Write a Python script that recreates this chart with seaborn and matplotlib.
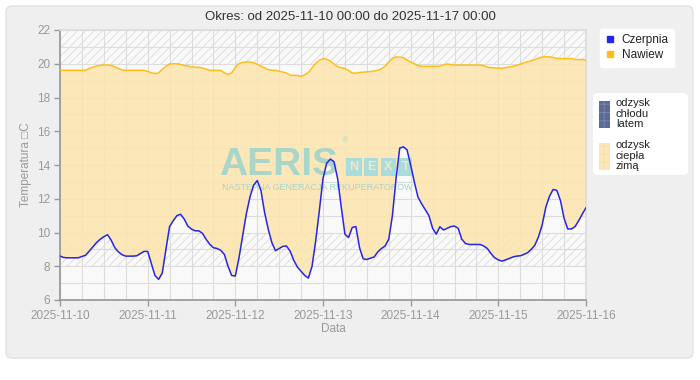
import pandas as pd
import matplotlib
matplotlib.use("Agg")
import matplotlib.pyplot as plt
import matplotlib.dates as mdates
from matplotlib.ticker import MultipleLocator
from matplotlib.patches import FancyBboxPatch, Patch
from matplotlib.lines import Line2D
import seaborn as sns

# ===============================
# Data (hourly)
# ===============================
start = "2025-11-10 00:00"
title = "Okres: od 2025-11-10 00:00 do 2025-11-17 00:00"

czerpnia = [
    8.60, 8.52, 8.50, 8.50, 8.50, 8.50, 8.58, 8.65, 8.90, 9.15, 9.40, 9.60,
    9.75, 9.87, 9.55, 9.10, 8.85, 8.68, 8.60, 8.60, 8.60, 8.62, 8.75, 8.88,
    8.88, 8.17, 7.45, 7.22, 7.60, 9.00, 10.35, 10.70, 11.00, 11.08, 10.80, 10.38,
    10.20, 10.10, 10.10, 9.95, 9.60, 9.30, 9.10, 9.05, 8.95, 8.70, 8.00, 7.45,
    7.42, 8.50, 9.80, 11.10, 12.10, 12.80, 13.08, 12.50, 11.20, 10.20, 9.40, 8.92,
    9.05, 9.18, 9.20, 8.90, 8.35, 7.95, 7.70, 7.45, 7.30, 8.00, 9.50, 11.30,
    13.20, 14.10, 14.35, 14.20, 13.20, 11.50, 9.90, 9.70, 10.30, 10.35, 9.10, 8.44,
    8.40, 8.48, 8.55, 8.85, 9.05, 9.20, 9.60, 11.00, 13.20, 15.00, 15.08, 14.90,
    14.00, 13.00, 12.10, 11.70, 11.35, 11.00, 10.25, 9.90, 10.34, 10.15, 10.25, 10.35,
    10.38, 10.25, 9.60, 9.35, 9.29, 9.29, 9.29, 9.29, 9.20, 9.05, 8.75, 8.50,
    8.38, 8.30, 8.38, 8.46, 8.55, 8.60, 8.62, 8.70, 8.80, 9.00, 9.25, 9.75,
    10.45, 11.50, 12.15, 12.55, 12.50, 11.90, 10.84, 10.21, 10.21, 10.35, 10.70, 11.10,
    11.47,
]

nawiew = [
    19.61, 19.61, 19.61, 19.61, 19.61, 19.61, 19.61, 19.61, 19.72, 19.80, 19.86, 19.90,
    19.93, 19.93, 19.90, 19.82, 19.72, 19.63, 19.61, 19.61, 19.61, 19.61, 19.61, 19.61,
    19.55, 19.46, 19.42, 19.45, 19.67, 19.85, 19.99, 20.00, 20.00, 19.96, 19.90, 19.87,
    19.82, 19.79, 19.79, 19.75, 19.68, 19.61, 19.61, 19.61, 19.60, 19.46, 19.36, 19.45,
    19.80, 20.00, 20.08, 20.11, 20.10, 20.06, 19.97, 19.86, 19.75, 19.65, 19.62, 19.61,
    19.55, 19.51, 19.45, 19.32, 19.31, 19.31, 19.25, 19.35, 19.48, 19.75, 20.02, 20.20,
    20.30, 20.27, 20.16, 19.98, 19.82, 19.77, 19.72, 19.60, 19.45, 19.44, 19.48, 19.50,
    19.52, 19.54, 19.56, 19.62, 19.70, 19.85, 20.10, 20.30, 20.41, 20.39, 20.36, 20.22,
    20.10, 20.00, 19.90, 19.85, 19.85, 19.85, 19.85, 19.85, 19.85, 19.93, 19.98, 19.95,
    19.92, 19.92, 19.92, 19.92, 19.92, 19.92, 19.92, 19.92, 19.88, 19.80, 19.77, 19.75,
    19.74, 19.73, 19.77, 19.81, 19.85, 19.90, 19.97, 20.05, 20.12, 20.17, 20.25, 20.33,
    20.40, 20.41, 20.41, 20.37, 20.32, 20.31, 20.31, 20.31, 20.31, 20.24, 20.25, 20.25,
    20.20,
]

series_names = ["Czerpnia", "Nawiew"]
series_colors = ["#2626e6", "#ffbe1a"]
band_low = (8, 10)
band_high = (20, 22)
recovery_labels = ["odzysk\nchłodu\nlatem", "odzysk\nciepła\nzimą"]

times = pd.date_range(start, periods=len(czerpnia), freq="h")
df = pd.DataFrame({"Czas": list(times) * 2,
                   "Temperatura": czerpnia + nawiew,
                   "Seria": ["Czerpnia"] * len(czerpnia) + ["Nawiew"] * len(nawiew)})

# ===============================
# Style
# ===============================
sns.set_theme(style="white")
plt.rcParams["font.family"] = ["Liberation Sans", "DejaVu Sans"]
plt.rcParams["hatch.linewidth"] = 0.6

fig = plt.figure(figsize=(7, 3.8), dpi=100)
fig.patch.set_facecolor("white")

# outer grey panel + box behind the second legend
panel = FancyBboxPatch((6, 22), 687, 352, boxstyle="round,pad=0,rounding_size=6",
                       transform=None, facecolor="#efefef", edgecolor="#e2e2e2", lw=1, zorder=-10)
fig.add_artist(panel)
box2 = FancyBboxPatch((593, 205), 95, 82, boxstyle="round,pad=0,rounding_size=5",
                      transform=None, facecolor="white", edgecolor="white", lw=0, zorder=-5)
fig.add_artist(box2)

ax = fig.add_axes([60 / 700, 80 / 380, 526 / 700, 270 / 380])
ax.set_facecolor("#f9f9f9")

# hatched bands
for lo, hi in [band_low, band_high]:
    ax.axhspan(lo, hi, facecolor="none", edgecolor="#dcdcdc", hatch="////", lw=0, zorder=1)

# heat recovery fill
ax.fill_between(times, czerpnia, nawiew, color="#fde5b0", alpha=0.88, lw=0, zorder=2)

# watermark
wm = "#a6d6cc"
ax.text(0.415, 0.463, "AERIS", transform=ax.transAxes, ha="center", va="baseline",
        fontsize=28, fontweight="bold", color=wm, alpha=0.95, zorder=3)
ax.text(0.543, 0.59, "®", transform=ax.transAxes, ha="center", va="center",
        fontsize=5, color=wm, zorder=3)
for i, ch in enumerate("NEXT"):
    ax.text(0.559 + i * 0.0325, 0.493, ch, transform=ax.transAxes, ha="center", va="center",
            fontsize=9, fontweight="bold", color="#f4e6bf", zorder=3,
            bbox=dict(boxstyle="square,pad=0.25", facecolor="#aadcdb", edgecolor="none"))
ax.text(0.489, 0.42, "NASTĘPNA GENERACJA REKUPERATORÓW", transform=ax.transAxes,
        ha="center", va="center", fontsize=6.5, color=wm, zorder=3)

# lines
sns.lineplot(data=df, x="Czas", y="Temperatura", hue="Seria",
             palette=dict(zip(series_names, series_colors)),
             linewidth=1.1, legend=False, ax=ax, zorder=4)

# axes
ax.set_xlim(times[0], times[0] + pd.Timedelta(days=6))
ax.set_ylim(6, 22)
ax.xaxis.set_major_locator(mdates.DayLocator())
ax.xaxis.set_major_formatter(mdates.DateFormatter("%Y-%m-%d"))
ax.xaxis.set_minor_locator(mdates.HourLocator(byhour=[6, 12, 18]))
ax.yaxis.set_major_locator(MultipleLocator(2))
ax.yaxis.set_minor_locator(MultipleLocator(1))
ax.grid(True, which="both", color="#dcdcdc", lw=0.8)
ax.set_axisbelow(True)
ax.tick_params(which="major", length=4, width=1, color="#999999", labelcolor="#999999",
               labelsize=8.5, left=True, bottom=True, pad=3)
ax.tick_params(which="minor", length=0)
for side in ["left", "bottom"]:
    ax.spines[side].set_color("#999999")
for side in ["top", "right"]:
    ax.spines[side].set_color("#dcdcdc")

ax.set_xlabel("Data", fontsize=8.5, color="#999999")
ax.xaxis.set_label_coords(0.519, -0.085)
ax.set_ylabel("Temperatura \u25a1C", fontsize=8.5, color="#999999")
ax.yaxis.set_label_coords(-0.053, 0.5)

fig.text(350 / 700, 1 - 17 / 380, title, ha="center", va="center", fontsize=9.5, color="#333333")

# legends
h1 = [Line2D([], [], marker="s", ls="", markersize=5, color=c) for c in series_colors]
leg1 = fig.legend(h1, series_names, loc="upper left", bbox_to_anchor=(600 / 700, 351 / 380),
                  fontsize=8.5, frameon=True, fancybox=True, facecolor="white", edgecolor="white",
                  framealpha=1, handlelength=0.8, handletextpad=0.6, labelspacing=0.25,
                  borderpad=0.45, borderaxespad=0)
for t in leg1.get_texts():
    t.set_color("#222222")

h2 = [Patch(facecolor="#5b6a96", edgecolor="#7d8ab0", hatch="++", lw=0),
      Patch(facecolor="#fde6b6", edgecolor="#f3dcae", hatch="++", lw=0)]
leg2 = fig.legend(h2, recovery_labels, loc="upper left", bbox_to_anchor=(597 / 700, 284 / 380),
                  fontsize=8, frameon=False, handlelength=1.0, handleheight=3.4,
                  handletextpad=0.5, labelspacing=1.0, borderpad=0.2, borderaxespad=0)
for t in leg2.get_texts():
    t.set_color("#222222")
    t.set_linespacing(1.05)

plt.savefig("out.png", dpi=100)
plt.close()
